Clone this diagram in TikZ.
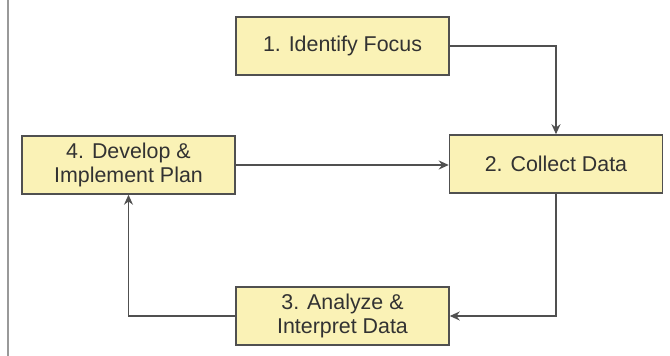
\documentclass[tikz,border=0pt]{standalone}
\usepackage{fontspec}
\setmainfont{Liberation Sans}
\usetikzlibrary{arrows.meta}
\definecolor{boxfill}{RGB}{250,242,182}
\definecolor{lineclr}{RGB}{80,80,80}
\definecolor{textclr}{RGB}{50,50,50}
\begin{document}
\begin{tikzpicture}[x=0.5pt,y=-0.5pt,
  phase/.style={draw=lineclr, line width=0.75pt, fill=boxfill, text=textclr,
    minimum width=106.5pt, minimum height=29pt, align=center, inner sep=0pt,
    font=\fontsize{10.7}{12.4}\selectfont},
  flow/.style={draw=lineclr, line width=0.7pt, -{Stealth[length=5pt,width=4.5pt]}}]

% Frame of the page
\useasboundingbox (0,0) rectangle (670,356);
\draw[gray!80, line width=1pt] (8,0) -- (8,356);

% The four steps of the cycle
\node[phase] (focus)   at (342.5,46)  {1. Identify Focus};
\node[phase] (collect) at (556,164)   {2. Collect Data};
\node[phase] (analyze) at (342.5,316) {3. Analyze \&\\Interpret Data};
\node[phase] (plan)    at (128.5,165) {4. Develop \&\\Implement Plan};

% Connectors
\draw[flow] (focus.east) -| (collect.north);
\draw[flow] (collect.south) |- (analyze.east);
\draw[flow] (analyze.west) -| (plan.south);
\draw[flow] (plan.east) -- (plan.east -| collect.west);
\end{tikzpicture}
\end{document}
